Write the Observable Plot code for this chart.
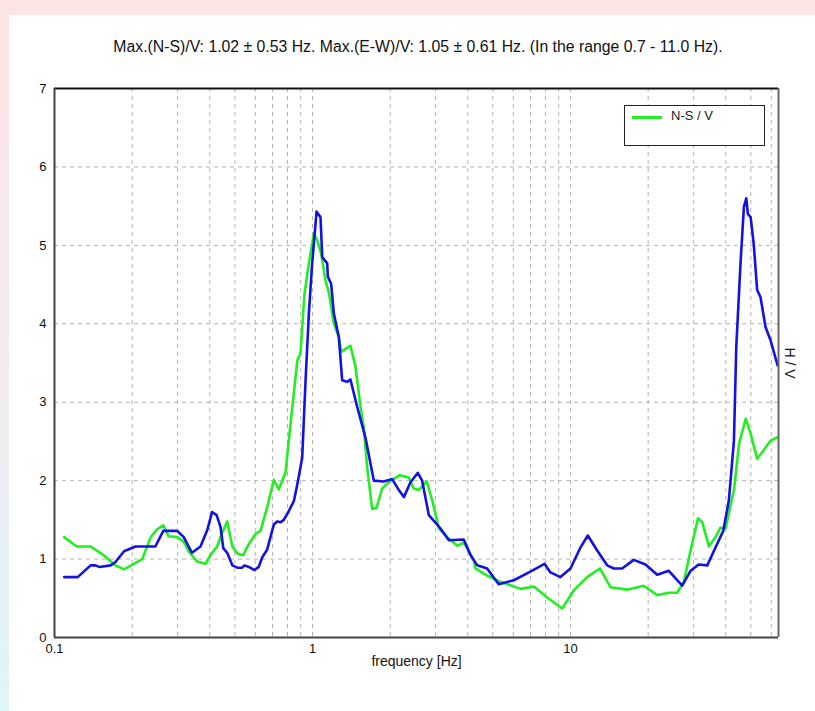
<!DOCTYPE html>
<html>
<head>
<meta charset="utf-8">
<script src="https://cdn.jsdelivr.net/npm/d3@7"></script>
<script src="https://cdn.jsdelivr.net/npm/@observablehq/plot@0.6"></script>
<style>
  html, body { margin: 0; padding: 0; }
  body { width: 815px; height: 711px; position: relative; overflow: hidden;
         background: linear-gradient(to bottom, #fde3e4 0%, #f3eaf0 50%, #def6f6 100%);
         font-family: "Liberation Sans", Arial, sans-serif; }
  #panel { position: absolute; left: 9px; top: 15px; width: 806px; height: 696px; background: #fff; }
  #title { position: absolute; left: 0; width: 836px; top: 38px; text-align: center; font-size: 15.8px; color: #111; }
  #chart { position: absolute; left: 0; top: 0; }
  #legend { position: absolute; left: 624px; top: 105px; width: 139px; height: 39px; border: 1px solid #222; background: #fff; }
  #legend .sw { position: absolute; left: 7px; top: 10px; width: 30px; height: 3px; background: #22ee22; }
  #legend .lb { position: absolute; left: 46px; top: 2px; font-size: 13px; color: #222; }
</style>
</head>
<body>
<div id="panel"></div>
<div id="chart"></div>
<div id="title">Max.(N-S)/V: 1.02 ± 0.53 Hz. Max.(E-W)/V: 1.05 ± 0.61 Hz. (In the range 0.7 - 11.0 Hz).</div>
<div id="legend"><div class="sw"></div><div class="lb">N-S / V</div></div>
<script>
// N-S / V (green)
const nsFreq = [0.109,0.122,0.138,0.155,0.172,0.186,0.203,0.219,0.236,0.250,0.264,0.277,0.299,0.317,0.332,0.357,0.385,0.402,0.427,0.446,0.467,0.489,0.511,0.539,0.566,0.601,0.629,0.667,0.708,0.740,0.786,0.809,0.873,0.898,0.931,0.968,1.012,1.043,1.081,1.123,1.157,1.210,1.265,1.292,1.342,1.403,1.468,1.535,1.58,1.629,1.703,1.770,1.862,1.976,2.18,2.36,2.47,2.58,2.77,2.91,3.09,3.33,3.64,3.86,4.22,4.28,4.75,5.35,6.40,7.21,8.12,9.29,10.3,11.6,13.0,14.3,16.6,19.2,21.7,24.1,25.9,27.5,29.2,31.2,32.4,34.4,36.5,38.1,39.9,43.0,45.0,47.8,49.9,52.9,56.1,59.6,63.1];
const nsHV   = [1.28,1.16,1.16,1.05,0.92,0.87,0.94,1.00,1.28,1.38,1.43,1.29,1.28,1.22,1.09,0.97,0.94,1.05,1.16,1.33,1.48,1.16,1.07,1.05,1.19,1.32,1.36,1.66,2.01,1.89,2.10,2.51,3.53,3.62,4.38,4.77,5.15,5.06,4.89,4.55,4.40,4.00,3.83,3.64,3.68,3.72,3.45,2.94,2.68,2.17,1.64,1.65,1.90,1.98,2.07,2.04,1.90,1.88,1.99,1.75,1.39,1.28,1.17,1.21,0.98,0.88,0.79,0.71,0.62,0.65,0.51,0.37,0.60,0.77,0.88,0.64,0.61,0.66,0.54,0.57,0.57,0.71,1.11,1.52,1.47,1.16,1.28,1.40,1.39,1.88,2.47,2.79,2.60,2.28,2.39,2.51,2.55];
// E-W / V (blue)
const ewFreq = [0.109,0.123,0.138,0.144,0.149,0.165,0.172,0.186,0.206,0.246,0.264,0.299,0.317,0.341,0.368,0.391,0.408,0.425,0.440,0.451,0.467,0.489,0.511,0.534,0.545,0.566,0.596,0.619,0.638,0.667,0.708,0.730,0.752,0.774,0.809,0.847,0.873,0.912,0.940,0.968,0.997,1.037,1.074,1.091,1.140,1.147,1.181,1.210,1.265,1.303,1.362,1.403,1.490,1.604,1.678,1.729,1.889,2.037,2.161,2.26,2.398,2.56,2.66,2.825,3.134,3.377,3.857,4.10,4.35,4.75,5.27,6.03,6.99,7.93,8.36,9.14,10.0,10.94,11.67,12.69,13.87,14.72,15.86,17.59,19.53,21.68,24.05,27.1,29.2,31.4,33.9,36.5,39.1,41.1,43.0,43.9,45.6,47.0,48.0,48.7,49.9,51.3,52.9,54.5,57.0,59.6,63.5];
const ewHV   = [0.77,0.77,0.92,0.92,0.90,0.92,0.96,1.10,1.16,1.16,1.36,1.36,1.28,1.08,1.16,1.37,1.60,1.56,1.41,1.14,1.08,0.92,0.89,0.89,0.92,0.90,0.86,0.90,1.02,1.12,1.44,1.48,1.47,1.50,1.61,1.74,1.95,2.29,3.28,4.13,4.77,5.43,5.36,4.85,4.77,4.60,4.51,4.13,3.83,3.28,3.26,3.29,2.94,2.55,2.22,2.00,1.99,2.02,1.88,1.79,1.98,2.10,2.00,1.56,1.39,1.24,1.25,1.05,0.92,0.88,0.68,0.73,0.84,0.94,0.83,0.77,0.88,1.15,1.30,1.11,0.92,0.88,0.88,0.99,0.93,0.80,0.85,0.66,0.85,0.93,0.92,1.15,1.36,1.75,2.51,3.70,4.77,5.49,5.60,5.40,5.36,5.02,4.43,4.34,3.96,3.79,3.47];

const yTicks = [0,1,2,3,4,5,6,7];
const xTicks = [0.1,1,10];
const xTickLabels = ["0.1","1","10"];
const xGrid = [0.2,0.3,0.4,0.5,0.6,0.7,0.8,0.9,1,2,3,4,5,6,7,8,9,10,20,30,40,50,60];
const yGrid = [1,2,3,4,5,6];

const xLabelMap = new Map(xTicks.map((t, i) => [t, xTickLabels[i]]));
const ns = nsFreq.map((f, i) => ({f, v: nsHV[i]}));
const ew = ewFreq.map((f, i) => ({f, v: ewHV[i]}));

const chart = Plot.plot({
  width: 815,
  height: 711,
  marginLeft: 54,
  marginRight: 37,
  marginTop: 88,
  marginBottom: 74,
  style: {background: "transparent", fontFamily: "'Liberation Sans', Arial, sans-serif", fontSize: "13px", color: "#111"},
  x: {type: "log", domain: [0.1, 64]},
  y: {domain: [0, 7]},
  marks: [
    Plot.ruleX(xGrid, {stroke: "#b4b4b4", strokeWidth: 1, strokeDasharray: "4,4"}),
    Plot.ruleY(yGrid, {stroke: "#b4b4b4", strokeWidth: 1, strokeDasharray: "4,4"}),
    Plot.line(ns, {x: "f", y: "v", stroke: "#22ee22", strokeWidth: 2.6, strokeLinejoin: "round"}),
    Plot.line(ew, {x: "f", y: "v", stroke: "#1212e4", strokeWidth: 2.6, strokeLinejoin: "round"}),
    Plot.ruleY([7], {stroke: "#111", strokeWidth: 2}),
    Plot.ruleY([0], {stroke: "#444", strokeWidth: 2}),
    Plot.ruleX([0.1], {stroke: "#444", strokeWidth: 2}),
    Plot.ruleX([64], {stroke: "#666", strokeWidth: 2}),
    Plot.axisY({ticks: yTicks, tickSize: 0, tickPadding: 8, label: null, tickFormat: d => String(d), fontSize: 13}),
    Plot.axisX({ticks: xTicks, tickSize: 0, tickPadding: 6, label: null, tickFormat: d => xLabelMap.get(d), fontSize: 13}),
    Plot.text(["frequency [Hz]"], {frameAnchor: "bottom", dy: 28, fontSize: 14, fill: "#111"}),
    Plot.text(["H / V"], {frameAnchor: "right", textAnchor: "middle", dx: 11, dy: 0, rotate: 90, fontSize: 14, fill: "#111"})
  ]
});
document.getElementById("chart").appendChild(chart);
</script>
</body>
</html>
